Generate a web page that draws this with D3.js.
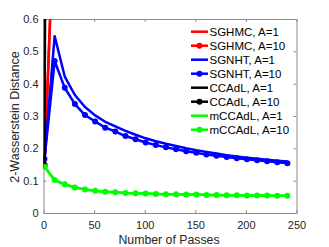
<!DOCTYPE html>
<html>
<head>
<style>
  body { margin: 0; background: #fff; }
  text { font-family: "Liberation Sans", Arial, sans-serif; }
</style>
</head>
<body>
<div id="graph_div"></div>
<script src="https://cdn.jsdelivr.net/npm/d3@7"></script>
<script>
// passes where the curves were sampled (markers every 10 passes)
var passes = [1, 11, 21, 31, 41, 51, 61, 71, 81, 91, 101, 111, 121, 131, 141, 151, 161, 171, 181, 191, 201, 211, 221, 231, 241];

var sghmc1  = [0.150, 0.98, 1.60, 2.10, 2.50, 2.80, 3.05, 3.25, 3.40, 3.55, 3.65, 3.75, 3.85, 3.92, 4.00, 4.06, 4.12, 4.18, 4.22, 4.27, 4.31, 4.35, 4.38, 4.41, 4.44];
var sghmc10 = [0.150, 0.95, 1.55, 2.05, 2.45, 2.75, 3.00, 3.20, 3.35, 3.50, 3.60, 3.70, 3.80, 3.88, 3.95, 4.02, 4.08, 4.13, 4.18, 4.22, 4.26, 4.30, 4.33, 4.36, 4.39];
var sgnht1  = [0.167, 0.547, 0.422, 0.365, 0.328, 0.302, 0.282, 0.268, 0.254, 0.242, 0.231, 0.222, 0.214, 0.207, 0.200, 0.194, 0.189, 0.184, 0.179, 0.175, 0.171, 0.168, 0.165, 0.162, 0.159];
var sgnht10 = [0.167, 0.470, 0.387, 0.337, 0.303, 0.283, 0.264, 0.252, 0.238, 0.228, 0.218, 0.210, 0.203, 0.197, 0.191, 0.186, 0.181, 0.177, 0.173, 0.169, 0.166, 0.163, 0.160, 0.157, 0.154];
var ccadl1  = [0.145, 12.0, 15.0, 17.0, 18.5, 19.5, 20.3, 21.0, 21.6, 22.1, 22.5, 22.9, 23.2, 23.5, 23.8, 24.0, 24.2, 24.4, 24.6, 24.8, 24.9, 25.0, 25.1, 25.2, 25.3];
var ccadl10 = [0.145, 11.5, 14.5, 16.5, 18.0, 19.0, 19.8, 20.5, 21.1, 21.6, 22.0, 22.4, 22.7, 23.0, 23.3, 23.5, 23.7, 23.9, 24.1, 24.3, 24.4, 24.5, 24.6, 24.7, 24.8];
var mccadl1 = [0.143, 0.101, 0.088, 0.079, 0.073, 0.069, 0.066, 0.064, 0.062, 0.061, 0.060, 0.059, 0.058, 0.058, 0.057, 0.057, 0.056, 0.056, 0.055, 0.055, 0.054, 0.054, 0.054, 0.053, 0.053];
var mccadl10 = [0.143, 0.102, 0.089, 0.079, 0.073, 0.069, 0.066, 0.064, 0.062, 0.061, 0.060, 0.059, 0.058, 0.058, 0.057, 0.057, 0.056, 0.056, 0.055, 0.055, 0.054, 0.054, 0.054, 0.053, 0.053];

var seriesNames = ["SGHMC, A=1", "SGHMC, A=10", "SGNHT, A=1", "SGNHT, A=10", "CCAdL, A=1", "CCAdL, A=10", "mCCAdL, A=1", "mCCAdL, A=10"];
var seriesValues = [sghmc1, sghmc10, sgnht1, sgnht10, ccadl1, ccadl10, mccadl1, mccadl10];
var seriesColors = ["#ff0000", "#ff0000", "#0000ff", "#0000ff", "#000000", "#000000", "#00ff00", "#00ff00"];
var seriesMarkers = [false, true, false, true, false, true, false, true];

var xTicks = [0, 50, 100, 150, 200, 250];
var yTicks = [0, 0.1, 0.2, 0.3, 0.4, 0.5, 0.6];

var W = 329, H = 247;
var plotL = 43.5, plotR = 296.5, plotT = 19, plotB = 213;

var svg = d3.select("#graph_div").append("svg")
    .attr("width", W)
    .attr("height", H);

var x = d3.scaleLinear().domain([0, 250]).range([plotL, plotR]);
var y = d3.scaleLinear().domain([0, 0.6]).range([plotB, plotT]);

svg.append("clipPath").attr("id", "clip")
  .append("rect")
    .attr("x", plotL).attr("y", plotT)
    .attr("width", plotR - plotL).attr("height", plotB - plotT);

var axisColor = "#8c8c8c";
var labelColor = "#262626";

// box + ticks (inward, on all four sides like matlab)
function styleAxis(g) {
  g.select(".domain").attr("stroke", axisColor);
  g.selectAll(".tick line").attr("stroke", axisColor);
  g.selectAll(".tick text").attr("fill", labelColor)
    .style("font-size", "11px")
    .style("font-family", "'Liberation Sans', Arial, sans-serif");
}

var xAxis = svg.append("g")
    .attr("transform", "translate(0," + plotB + ")")
    .call(d3.axisBottom(x).tickValues(xTicks).tickSizeInner(-3).tickSizeOuter(0).tickPadding(8.5));
styleAxis(xAxis);

var xTop = svg.append("g")
    .attr("transform", "translate(0," + plotT + ")")
    .call(d3.axisTop(x).tickValues(xTicks).tickSizeInner(-3).tickSizeOuter(0).tickFormat(""));
styleAxis(xTop);

var yAxis = svg.append("g")
    .attr("transform", "translate(" + plotL + ",0)")
    .call(d3.axisLeft(y).tickValues(yTicks).tickSizeInner(-3).tickSizeOuter(0).tickPadding(5)
      .tickFormat(function(d) { return d === 0 ? "0" : d3.format(".1f")(d); }));
styleAxis(yAxis);

var yRight = svg.append("g")
    .attr("transform", "translate(" + plotR + ",0)")
    .call(d3.axisRight(y).tickValues(yTicks).tickSizeInner(-3).tickSizeOuter(0).tickFormat(""));
styleAxis(yRight);

// lines
var plot = svg.append("g").attr("clip-path", "url(#clip)");
var line = d3.line()
    .x(function(d) { return x(d[0]); })
    .y(function(d) { return y(d[1]); });

seriesValues.forEach(function(vals, i) {
  var pts = passes.map(function(p, j) { return [p, vals[j]]; });
  plot.append("path")
    .attr("d", line(pts))
    .attr("fill", "none")
    .attr("stroke", seriesColors[i])
    .attr("stroke-width", 2.5)
    .attr("stroke-linejoin", "round");
  if (seriesMarkers[i]) {
    plot.selectAll(null)
      .data(pts)
      .enter().append("circle")
        .attr("cx", function(d) { return x(d[0]); })
        .attr("cy", function(d) { return y(d[1]); })
        .attr("r", 3)
        .attr("fill", seriesColors[i]);
  }
});

// legend
var legend = svg.append("g");
seriesNames.forEach(function(name, i) {
  var ly = 31.7 + i * 14;
  legend.append("line")
    .attr("x1", 191).attr("x2", 208)
    .attr("y1", ly).attr("y2", ly)
    .attr("stroke", seriesColors[i])
    .attr("stroke-width", 2.5);
  if (seriesMarkers[i]) {
    legend.append("circle")
      .attr("cx", 199.5).attr("cy", ly).attr("r", 3)
      .attr("fill", seriesColors[i]);
  }
  legend.append("text")
    .attr("x", 209.5)
    .attr("y", ly)
    .attr("dy", "0.35em")
    .attr("font-size", "11.5px")
    .attr("fill", "#000")
    .text(name);
});

// axis titles
svg.append("text")
  .attr("text-anchor", "middle")
  .attr("x", 169)
  .attr("y", 244)
  .attr("font-size", "12.3px")
  .attr("fill", labelColor)
  .text("Number of Passes");

svg.append("text")
  .attr("text-anchor", "middle")
  .attr("transform", "translate(18.5,117) rotate(-90)")
  .attr("font-size", "12.5px")
  .attr("fill", labelColor)
  .text("2-Wasserstein Distance");
</script>
</body>
</html>
